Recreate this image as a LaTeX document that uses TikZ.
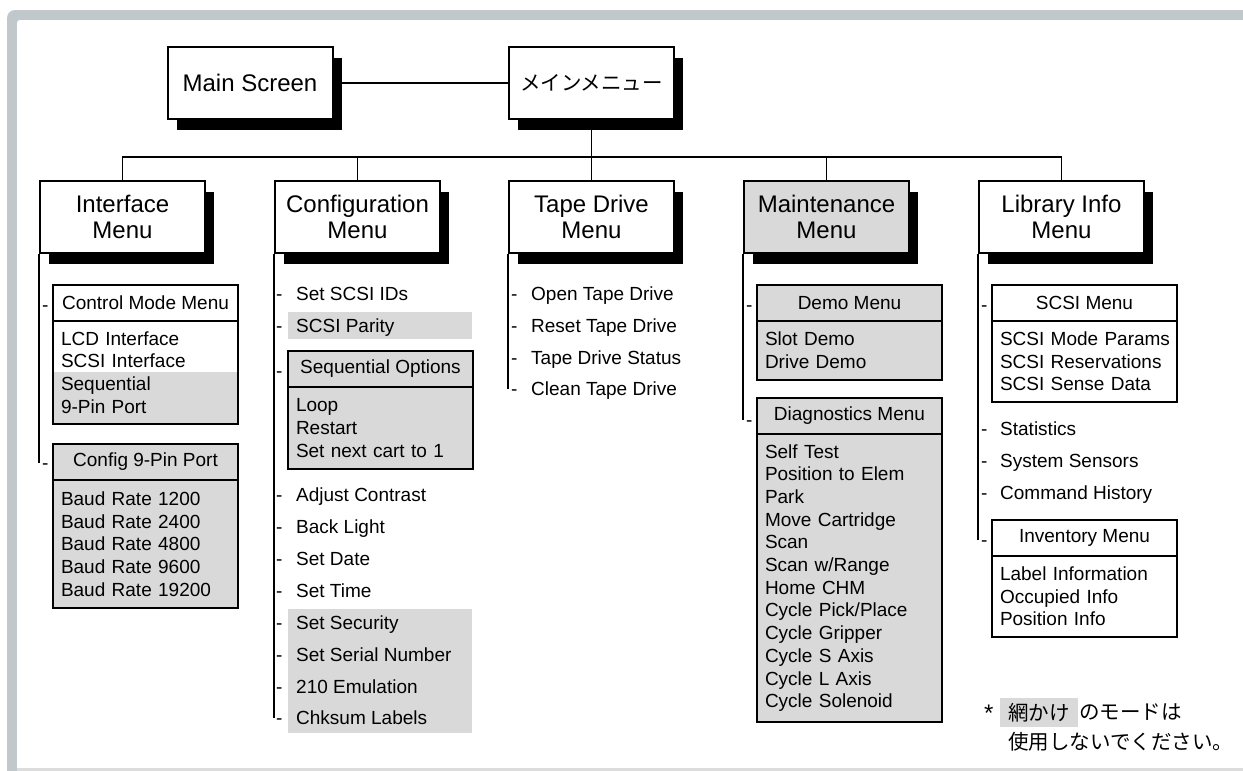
\documentclass[tikz,border=0pt]{standalone}
\usepackage{fontspec}
\setmainfont{Liberation Sans}
\newfontfamily\jp{Noto Sans CJK JP}
\usetikzlibrary{shadows}
\definecolor{framegray}{HTML}{C0C8CB}
\definecolor{shade}{HTML}{D9D9D9}
\definecolor{lightline}{HTML}{DCDCDC}
\newcommand\myitemfont{\fontsize{19}{22.7}\selectfont}
\newcommand\myjpfont{\jp\fontsize{20.5}{24}\selectfont}
\tikzset{
 lvbox/.style={draw, line width=2pt, fill=white, minimum width=165pt, minimum height=72pt,
   align=center, font=\fontsize{24}{26.7}\selectfont,
   drop shadow={shadow xshift=9pt, shadow yshift=-11pt, fill=black, opacity=1}},
 menuhdr/.style={draw, line width=2pt, outer sep=0pt, minimum width=185pt, minimum height=36pt,
   inner sep=0pt, anchor=north west, font=\myitemfont},
 bodybox/.style={draw, line width=2pt, outer sep=0pt, text width=169pt, inner xsep=8pt,
   inner ysep=0pt, align=left, anchor=north, font=\myitemfont},
 listitem/.style={anchor=west, inner sep=0pt, font=\myitemfont, text height=13.6pt, text depth=0pt},
 dashmark/.style={listitem},
 vbar/.style={line width=2pt},
 treeline/.style={line width=1.8pt},
 shadebox/.style={fill=shade},
}
\begin{document}
\begin{tikzpicture}[x=1pt,y=-1pt]
\useasboundingbox (0,0) rectangle (1243,771);
\clip (0,0) rectangle (1243,771);
% frame
\fill[framegray, rounded corners=8pt] (7,10) rectangle (1300,800);
\fill[white, rounded corners=3pt] (17,20) rectangle (1300,800);
\fill[lightline] (17,768) rectangle (1243,771);

% shaded list areas
\fill[shadebox] (53,372) rectangle (238,424);
\fill[shadebox] (288,312) rectangle (472,339);
\fill[shadebox] (288,609) rectangle (472,733);

% level 1
\node[lvbox] (main) at (250,83) {Main Screen};
\node[lvbox, font=\myjpfont] (menu) at (591.5,83) {メインメニュー};

% level 2
\node[lvbox] (intf) at (122.5,217) {Interface\\Menu};
\node[lvbox] (conf) at (357.5,217) {Configuration\\Menu};
\node[lvbox] (tape) at (591.5,217) {Tape Drive\\Menu};
\node[lvbox, fill=shade] (maint) at (826.5,217) {Maintenance\\Menu};
\node[lvbox] (lib) at (1061.5,217) {Library Info\\Menu};

% tree
\coordinate (bus) at (591.5,157);
\draw[treeline] (main) -- (menu);
\draw[treeline] (menu.south) -- (bus);
\draw[treeline] (intf.north) |- (bus) -| (lib.north);
\draw[treeline] (conf.north) -- (conf.north |- bus);
\draw[treeline] (tape.north) -- (bus);
\draw[treeline] (maint.north) -- (maint.north |- bus);

% Interface column
\node[menuhdr] (cmh) at (53,285) {Control Mode Menu};
\node[bodybox, minimum height=103pt] (cmb) at (cmh.south) {LCD Interface\\SCSI Interface\\Sequential\\9-Pin Port};
\node[menuhdr, fill=shade] (c9h) at (53,444) {Config 9-Pin Port};
\node[bodybox, fill=shade, minimum height=128pt] (c9b) at (c9h.south) {Baud Rate 1200\\Baud Rate 2400\\Baud Rate 4800\\Baud Rate 9600\\Baud Rate 19200};
\node[dashmark] (id1) at (42,305) {-};
\node[dashmark] (id2) at (42,463) {-};
\draw[vbar] (intf.south west) -- (intf.south west |- id2);

% Configuration column
\node[listitem] (c1) at (296,294) {Set SCSI IDs};
\node[listitem] (c2) at (296,326) {SCSI Parity};
\node[menuhdr, fill=shade] (sqh) at (288,351) {Sequential Options};
\node[bodybox, fill=shade, minimum height=82pt] (sqb) at (sqh.south) {Loop\\Restart\\Set next cart to 1};
\node[listitem] (c4) at (296,495) {Adjust Contrast};
\node[listitem] (c5) at (296,527) {Back Light};
\node[listitem] (c6) at (296,559) {Set Date};
\node[listitem] (c7) at (296,591) {Set Time};
\node[listitem] (c8) at (296,623) {Set Security};
\node[listitem] (c9) at (296,655) {Set Serial Number};
\node[listitem] (c10) at (296,687) {210 Emulation};
\node[listitem] (c11) at (296,718) {Chksum Labels};
\foreach \y [count=\i] in {294,326,371,495,527,559,591,623,655,687,718}
  \node[dashmark] (cd\i) at (276,\y) {-};
\draw[vbar] (conf.south west) -- (conf.south west |- cd11);

% Tape Drive column
\node[listitem] (t1) at (531,294) {Open Tape Drive};
\node[listitem] (t2) at (531,326) {Reset Tape Drive};
\node[listitem] (t3) at (531,358) {Tape Drive Status};
\node[listitem] (t4) at (531,389) {Clean Tape Drive};
\foreach \y [count=\i] in {294,326,358,389}
  \node[dashmark] (td\i) at (511,\y) {-};
\draw[vbar] (tape.south west) -- (tape.south west |- td4);

% Maintenance column
\node[menuhdr, fill=shade] (dmh) at (757,285) {Demo Menu};
\node[bodybox, fill=shade, minimum height=59pt] (dmb) at (dmh.south) {Slot Demo\\Drive Demo};
\node[menuhdr, fill=shade] (dgh) at (757,398) {Diagnostics Menu};
\node[bodybox, fill=shade, minimum height=288pt] (dgb) at (dgh.south) {Self Test\\Position to Elem\\Park\\Move Cartridge\\Scan\\Scan w/Range\\Home CHM\\Cycle Pick/Place\\Cycle Gripper\\Cycle S Axis\\Cycle L Axis\\Cycle Solenoid};
\node[dashmark] (md1) at (746,305) {-};
\node[dashmark] (md2) at (746,420) {-};
\draw[vbar] (maint.south west) -- (maint.south west |- md2);

% Library Info column
\node[menuhdr] (sch) at (992,285) {SCSI Menu};
\node[bodybox, minimum height=81pt] (scb) at (sch.south) {\mbox{SCSI Mode Params}\\\mbox{SCSI Reservations}\\\mbox{SCSI Sense Data}};
\node[listitem] (l1) at (1000,429) {Statistics};
\node[listitem] (l2) at (1000,461) {System Sensors};
\node[listitem] (l3) at (1000,493) {Command History};
\node[menuhdr] (ivh) at (992,520) {Inventory Menu};
\node[bodybox, minimum height=81pt] (ivb) at (ivh.south) {Label Information\\Occupied Info\\Position Info};
\foreach \y [count=\i] in {305,429,461,493,540}
  \node[dashmark] (ld\i) at (981,\y) {-};
\draw[vbar] (lib.south west) -- (lib.south west |- ld5);

% note
\node[anchor=west, inner sep=0pt, font=\fontsize{24}{26}\selectfont] (star) at (984,713) {*};
\node[anchor=west, fill=shade, inner xsep=8pt, inner ysep=0pt, minimum height=29pt, font=\myjpfont] (hl) at (1000,712.5) {網かけ};
\node[anchor=west, inner sep=0pt, font=\myjpfont] (rest) at (1079,712.5) {のモードは};
\node[anchor=west, inner sep=0pt, font=\myjpfont] (line2) at (1008,742) {使用しないでください。};
\end{tikzpicture}
\end{document}
